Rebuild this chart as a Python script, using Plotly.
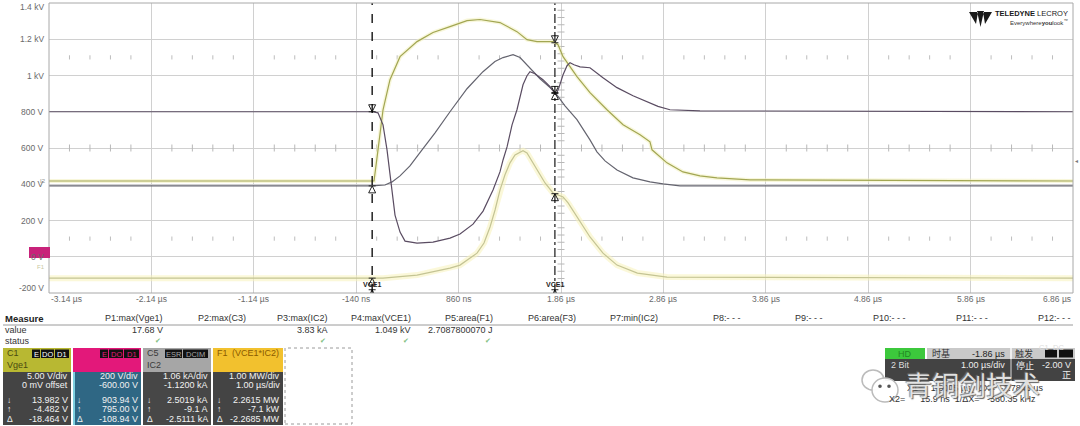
import numpy as np
import plotly.graph_objects as go

# ---------------- data (screen units: time in µs, vertical in V of the 200 V/div grid) ----------------
x_ticks = [-3.14, -2.14, -1.14, -0.14, 0.86, 1.86, 2.86, 3.86, 4.86, 5.86, 6.86]
x_tick_labels = ["-3.14 µs", "-2.14 µs", "-1.14 µs", "-140 ns", "860 ns", "1.86 µs",
                 "2.86 µs", "3.86 µs", "4.86 µs", "5.86 µs", "6.86 µs"]
y_ticks = [1400, 1200, 1000, 800, 600, 400, 200, 0, -200]
y_tick_labels = ["1.4 kV", "1.2 kV", "1 kV", "800 V", "600 V", "400 V", "200 V", "0 V", "-200 V"]

# C1 Vge1 (olive)
t_vge = [-3.14, 0.034, 0.073, 0.122, 0.190, 0.288, 0.454, 0.610, 0.776, 0.942, 1.069, 1.264, 1.430,
         1.528, 1.626, 1.782, 1.831, 1.880, 2.016, 2.143, 2.309, 2.466, 2.632, 2.729, 2.749, 2.895,
         3.051, 3.217, 3.383, 3.706, 6.86]
y_vge = [418, 418, 590, 811, 977, 1104, 1187, 1237, 1270, 1303, 1309, 1292, 1242,
         1198, 1187, 1187, 1170, 1104, 994, 905, 811, 728, 673, 634, 590, 518,
         468, 446, 435, 424, 418]

# C3 VCE1 (dark)
t_vce = [-3.14, 0.024, 0.073, 0.122, 0.161, 0.200, 0.239, 0.288, 0.337, 0.454, 0.610, 0.776, 0.874,
         1.001, 1.099, 1.196, 1.264, 1.294, 1.333, 1.382, 1.430, 1.489, 1.528, 1.557, 1.606, 1.684,
         1.753, 1.811, 1.840, 1.880, 1.919, 1.948, 1.987, 2.046, 2.143, 2.270, 2.407, 2.563, 2.729,
         2.778, 2.807, 2.924, 3.217, 6.86]
y_vce = [800, 800, 794, 728, 590, 396, 230, 136, 86, 75, 81, 103, 125,
         180, 252, 368, 468, 534, 606, 728, 811, 949, 999, 1021, 1010, 977,
         938, 893, 933, 1004, 1054, 1071, 1059, 1048, 1043, 988, 933, 888, 849,
         838, 830, 811, 805, 800]

# C5 IC2 (grey)
t_ic = [-3.14, 0.014, 0.141, 0.210, 0.288, 0.385, 0.503, 0.630, 0.776, 0.942, 1.098, 1.215, 1.294,
        1.392, 1.460, 1.557, 1.655, 1.753, 1.811, 1.899, 2.016, 2.143, 2.211, 2.290, 2.407, 2.563,
        2.729, 2.856, 3.022, 6.86]
y_ic = [391, 391, 396, 413, 446, 501, 590, 684, 800, 927, 1021, 1077, 1099,
        1115, 1099, 1043, 982, 933, 900, 833, 756, 645, 579, 529, 479, 435,
        413, 402, 391, 391]

# F1 = VCE1*IC2 (pale yellow)
t_pw = [-3.14, 0.122, 0.454, 0.776, 0.874, 1.040, 1.108, 1.167, 1.216, 1.264, 1.313, 1.362, 1.411,
        1.460, 1.489, 1.528, 1.626, 1.704, 1.782, 1.831, 1.880, 1.929, 2.016, 2.143, 2.270, 2.407,
        2.606, 2.895, 6.86]
y_pw = [-118, -118, -101, -63, -46, 20, 76, 164, 258, 368, 452, 518, 562,
        579, 585, 573, 479, 407, 352, 341, 330, 297, 219, 109, 20, -46,
        -90, -112, -118]

cursor_x1 = 1.8005   # µs
cursor_x2 = 0.0159   # µs

measure_heads = ["P1:max(Vge1)", "P2:max(C3)", "P3:max(IC2)", "P4:max(VCE1)", "P5:area(F1)",
                 "P6:area(F3)", "P7:min(IC2)", "P8:- - -", "P9:- - -", "P10:- - -", "P11:- - -", "P12:- - -"]
measure_values = ["17.68 V", "", "3.83 kA", "1.049 kV", "2.7087800070 J", "", "", "", "", "", "", ""]
measure_status = [True, False, True, True, True, False, False, False, False, False, False, False]

ch_names = ["C1", "", "C5", "F1"]
ch_sub = ["Vge1", "", "IC2", "(VCE1*IC2)"]
ch_lines = [
    ["5.00 V/div", "0 mV offset", "13.982 V", "-4.482 V", "-18.464 V"],
    ["200 V/div", "-600.00 V", "903.94 V", "795.00 V", "-108.94 V"],
    ["1.06 kA/div", "-1.1200 kA", "2.5019 kA", "-9.1 A", "-2.5111 kA"],
    ["1.00 MW/div", "1.00 µs/div", "2.2615 MW", "-7.1 kW", "-2.2685 MW"],
]

# ---------------- layout helpers (pixel -> paper) ----------------
L, R, T, B = 49, 1073, 3, 293
W, H = 1080, 426


def PX(x):
    return (x - L) / (R - L)


def PY(y):
    return (B - y) / (B - T)


FONT = "Liberation Sans, Arial, sans-serif"
CJK = "Noto Sans CJK SC, sans-serif"

fig = go.Figure()

# grid decoration: dotted rows and centre ticks
minor_x = [v for v in np.arange(-3.14, 6.861, 0.2)
           if abs(((v + 3.14) % 1.0)) > 0.05 and abs(((v + 3.14) % 1.0) - 1) > 0.05]
for yrow in (1100, 100):
    fig.add_trace(go.Scatter(x=minor_x, y=[yrow] * len(minor_x), mode="markers",
                             marker=dict(symbol="line-ns-open", size=3, color="#bdbdbd",
                                         line=dict(color="#bdbdbd", width=1)),
                             hoverinfo="skip", showlegend=False))
fig.add_trace(go.Scatter(x=minor_x, y=[600] * len(minor_x), mode="markers",
                         marker=dict(symbol="line-ns-open", size=5, color="#b8b8b8",
                                     line=dict(color="#b8b8b8", width=1)),
                         hoverinfo="skip", showlegend=False))
minor_y = [v for v in np.arange(-200, 1401, 40) if v % 200 != 0]
fig.add_trace(go.Scatter(x=[1.86] * len(minor_y), y=minor_y, mode="markers",
                         marker=dict(symbol="line-ew-open", size=5, color="#b8b8b8",
                                     line=dict(color="#b8b8b8", width=1)),
                         hoverinfo="skip", showlegend=False))

# halos (persistence glow)
for tt, yy, col, w in [(t_pw, y_pw, "rgba(247,242,185,0.55)", 6),
                       (t_vge, y_vge, "rgba(242,240,190,0.55)", 4)]:
    fig.add_trace(go.Scatter(x=tt, y=yy, mode="lines", line=dict(color=col, width=w),
                             hoverinfo="skip", showlegend=False))

# traces
fig.add_trace(go.Scatter(x=t_pw, y=y_pw, mode="lines", line=dict(color="#c4c494", width=1.2),
                         name="F1", showlegend=False))
fig.add_trace(go.Scatter(x=t_vge, y=y_vge, mode="lines", line=dict(color="#a2a652", width=1.2),
                         name="Vge1", showlegend=False))
fig.add_trace(go.Scatter(x=t_ic, y=y_ic, mode="lines", line=dict(color="#64646f", width=1.2),
                         name="IC2", showlegend=False))
fig.add_trace(go.Scatter(x=t_vce, y=y_vce, mode="lines", line=dict(color="#5a4c62", width=1.2),
                         name="VCE1", showlegend=False))

# cursor markers
mk_x, mk_y, mk_s = [], [], []
for cx in (cursor_x2, cursor_x1):
    mk_x += [cx, cx, cx]
    mk_y += [float(np.interp(cx, t_vce, y_vce)), float(np.interp(cx, t_ic, y_ic)),
             float(np.interp(cx, t_pw, y_pw))]
    mk_s += ["arrow-bar-down-open", "arrow-bar-up-open", "arrow-bar-up-open"]
mk_x.append(cursor_x1)
mk_y.append(float(np.interp(cursor_x1, t_vge, y_vge)))
mk_s.append("arrow-bar-down-open")
fig.add_trace(go.Scatter(x=mk_x, y=mk_y, mode="markers",
                         marker=dict(symbol=mk_s, size=7, color="#222", line=dict(color="#222", width=1)),
                         hoverinfo="skip", showlegend=False))
fig.add_trace(go.Scatter(x=[cursor_x2, cursor_x1], y=[-182, -182], mode="markers",
                         marker=dict(symbol="arrow-bar-up-open", size=7, color="#222", line=dict(color="#222", width=1)),
                         hoverinfo="skip", showlegend=False))

shapes = []
ann = []

# cursors
shapes.append(dict(type="line", xref="x", yref="paper", x0=cursor_x2, x1=cursor_x2, y0=0, y1=1,
                   line=dict(color="black", width=1.3, dash="dash")))
shapes.append(dict(type="line", xref="x", yref="paper", x0=cursor_x1, x1=cursor_x1, y0=0, y1=1,
                   line=dict(color="black", width=1.1, dash="dashdot")))
# plot frame
shapes.append(dict(type="rect", xref="paper", yref="paper", x0=0, x1=1, y0=0, y1=1,
                   line=dict(color="#a8a8a8", width=1)))

for cx in (cursor_x2, cursor_x1):
    ann.append(dict(x=cx, y=PY(284), xref="x", yref="paper", text="<b>VCE1</b>", showarrow=False,
                    yanchor="middle", font=dict(family=FONT, size=7, color="#222")))

# axis labels
for v, lab in zip(x_ticks, x_tick_labels):
    xa = "center"
    if v == x_ticks[0]:
        xa = "left"
    elif v == x_ticks[-1]:
        xa = "right"
    ann.append(dict(x=v, y=PY(298.5), xref="x", yref="paper", text=lab, showarrow=False, xanchor=xa,
                    yanchor="middle", font=dict(family=FONT, size=8.5, color="#6a6a6a")))
for v, lab in zip(y_ticks, y_tick_labels):
    yy = v
    if v == 1400:
        yy = 1378
    if v == -200:
        yy = -172
    ann.append(dict(x=PX(46), y=yy, xref="paper", yref="y", text=lab, showarrow=False, xanchor="right",
                    yanchor="middle", font=dict(family=FONT, size=8.5, color="#6a6a6a")))

# ground marker (magenta)
shapes.append(dict(type="rect", xref="paper", yref="paper", x0=PX(29), x1=PX(50), y0=PY(258), y1=PY(247),
                   line=dict(width=0), fillcolor="#c8227a"))
ann.append(dict(x=PX(47), y=PY(272), xref="paper", yref="paper", text="F1", showarrow=False, xanchor="right",
                font=dict(family=FONT, size=6, color="#c8c8a0")))
ann.append(dict(x=PX(48), y=PY(181), xref="paper", yref="paper", text="I2", showarrow=False, xanchor="right",
                font=dict(family=FONT, size=6, color="#909090")))

# logo
logo_path = ("M {a},{b} L {c},{b} L {d},{e} Z M {f},{b} L {g},{b} L {h},{e} Z "
             "M {i},{j} L {k},{j} L {l},{m} Z").format(
    a=PX(969), b=PY(12), c=PX(978), d=PX(976), e=PY(24),
    f=PX(983), g=PX(992), h=PX(985),
    i=PX(977), j=PY(11), k=PX(984), l=PX(980.5), m=PY(27))
shapes.append(dict(type="path", xref="paper", yref="paper", path=logo_path, fillcolor="#1a1a1a",
                   line=dict(width=0)))
ann.append(dict(x=PX(1070), y=PY(14), xref="paper", yref="paper",
                text="<b>TELEDYNE</b> LECROY", showarrow=False, xanchor="right", yanchor="middle",
                font=dict(family=FONT, size=7.5, color="#1a1a1a")))
ann.append(dict(x=PX(1070), y=PY(22), xref="paper", yref="paper",
                text="Everywhere<b>you</b>look<sup>™</sup>", showarrow=False, xanchor="right", yanchor="middle",
                font=dict(family=FONT, size=6, color="#333")))
ann.append(dict(x=PX(1076), y=PY(160), xref="paper", yref="paper", text="◂", showarrow=False,
                xanchor="center", font=dict(family="DejaVu Sans", size=6, color="#777")))

# ---------------- measurement table ----------------
TXT = "#333333"
ann.append(dict(x=PX(3), y=PY(318), xref="paper", yref="paper", text="<b>Measure</b>", showarrow=False,
                xanchor="left", yanchor="middle", font=dict(family=FONT, size=9.5, color="#222")))
ann.append(dict(x=PX(3), y=PY(330), xref="paper", yref="paper", text="value", showarrow=False,
                xanchor="left", yanchor="middle", font=dict(family=FONT, size=9, color=TXT)))
ann.append(dict(x=PX(3), y=PY(341), xref="paper", yref="paper", text="status", showarrow=False,
                xanchor="left", yanchor="middle", font=dict(family=FONT, size=9, color=TXT)))
shapes.append(dict(type="line", xref="paper", yref="paper", x0=PX(3), x1=PX(1073), y0=PY(325), y1=PY(325),
                   line=dict(color="#9a9a9a", width=1)))
col_right = [165 + 82.5 * i for i in range(12)]
for i, (hd, vl, st) in enumerate(zip(measure_heads, measure_values, measure_status)):
    xr = col_right[i]
    ann.append(dict(x=PX(xr), y=PY(318), xref="paper", yref="paper", text=hd, showarrow=False,
                    xanchor="right", yanchor="middle", font=dict(family=FONT, size=9, color=TXT)))
    if vl:
        ann.append(dict(x=PX(xr), y=PY(330), xref="paper", yref="paper", text=vl, showarrow=False,
                        xanchor="right", yanchor="middle", font=dict(family=FONT, size=9, color=TXT)))
    if st:
        ann.append(dict(x=PX(xr - 2), y=PY(341), xref="paper", yref="paper", text="✔", showarrow=False,
                        xanchor="right", yanchor="middle",
                        font=dict(family="DejaVu Sans", size=7, color="#7fbf7f")))

# ---------------- channel boxes ----------------
box_x = [(3, 71), (73, 141), (143, 211), (213, 283)]
head_col = ["#b8b832", "#e3187a", "#a6a6a6", "#f2c12e"]
body_col = ["#444444", "#2f6784", "#474747", "#444444"]
name_col = ["#4a4a10", "#e3187a", "#3a3a3a", "#8a5a00"]
line_y = [376, 384.5, 400, 409, 418.5]
for k, (x0, x1) in enumerate(box_x):
    shapes.append(dict(type="rect", xref="paper", yref="paper", x0=PX(x0), x1=PX(x1), y0=PY(372), y1=PY(348),
                       line=dict(width=0), fillcolor=head_col[k]))
    shapes.append(dict(type="rect", xref="paper", yref="paper", x0=PX(x0), x1=PX(x1), y0=PY(425), y1=PY(372),
                       line=dict(width=0), fillcolor=body_col[k]))
    if ch_names[k]:
        ann.append(dict(x=PX(x0 + 2), y=PY(353), xref="paper", yref="paper", text=ch_names[k], showarrow=False,
                        xanchor="left", yanchor="middle", font=dict(family=FONT, size=9, color=name_col[k])))
    if ch_sub[k]:
        if k == 3:
            ann.append(dict(x=PX(x1 - 2), y=PY(353), xref="paper", yref="paper", text=ch_sub[k],
                            showarrow=False, xanchor="right", yanchor="middle",
                            font=dict(family=FONT, size=9, color=name_col[k])))
        else:
            ann.append(dict(x=PX(x0 + 2), y=PY(364.5), xref="paper", yref="paper", text=ch_sub[k],
                            showarrow=False, xanchor="left", yanchor="middle",
                            font=dict(family=FONT, size=9, color=name_col[k])))
    for j, (txt, yy) in enumerate(zip(ch_lines[k], line_y)):
        ann.append(dict(x=PX(x1 - 1.5), y=PY(yy), xref="paper", yref="paper", text=txt, showarrow=False,
                        xanchor="right", yanchor="middle", font=dict(family=FONT, size=9, color="#f2f2f2")))
    for sym, yy in zip(["↓", "↑", "Δ"], line_y[2:]):
        ann.append(dict(x=PX(x0 + 2), y=PY(yy), xref="paper", yref="paper", text=sym, showarrow=False,
                        xanchor="left", yanchor="middle", font=dict(family=FONT, size=8.5, color="#f2f2f2")))
    if k == 1:
        shapes.append(dict(type="rect", xref="paper", yref="paper", x0=PX(x0), x1=PX(x0 + 2), y0=PY(425),
                           y1=PY(372), line=dict(width=0), fillcolor="#7fd0e0"))

# flag boxes in headers
flags = [(32, 40, "E", "#ffffff"), (41, 54, "DO", "#ffffff"), (55, 69, "D1", "#ffffff"),
         (100, 108, "E", "#e3187a"), (109, 123, "DO", "#e3187a"), (124, 139, "D1", "#e3187a"),
         (165, 182, "ESR", "#a6a6a6"), (183, 208, "DCIM", "#a6a6a6")]
for fx0, fx1, txt, col in flags:
    shapes.append(dict(type="rect", xref="paper", yref="paper", x0=PX(fx0), x1=PX(fx1), y0=PY(358),
                       y1=PY(349.5), line=dict(width=0), fillcolor="#111111"))
    ann.append(dict(x=PX((fx0 + fx1) / 2), y=PY(354), xref="paper", yref="paper", text=txt, showarrow=False,
                    xanchor="center", yanchor="middle", font=dict(family=FONT, size=7.5, color=col)))
# dotted empty box
shapes.append(dict(type="rect", xref="paper", yref="paper", x0=PX(285), x1=PX(352), y0=PY(424), y1=PY(348),
                   line=dict(color="#9a9a9a", width=1, dash="dot")))

# ---------------- timebase / trigger box ----------------
shapes.append(dict(type="rect", xref="paper", yref="paper", x0=PX(885), x1=PX(925), y0=PY(359), y1=PY(348),
                   line=dict(width=0), fillcolor="#3cc83c"))
shapes.append(dict(type="rect", xref="paper", yref="paper", x0=PX(927), x1=PX(1010), y0=PY(359), y1=PY(348),
                   line=dict(width=0), fillcolor="#c9c9c9"))
shapes.append(dict(type="rect", xref="paper", yref="paper", x0=PX(1012), x1=PX(1075), y0=PY(359), y1=PY(348),
                   line=dict(width=0), fillcolor="#c9c9c9"))
shapes.append(dict(type="rect", xref="paper", yref="paper", x0=PX(885), x1=PX(1075), y0=PY(381), y1=PY(359),
                   line=dict(width=0), fillcolor="#434343"))
shapes.append(dict(type="line", xref="paper", yref="paper", x0=PX(1011), x1=PX(1011), y0=PY(381), y1=PY(348),
                   line=dict(color="#dddddd", width=1)))
for fx0, fx1, txt in [(1045, 1057, "C1"), (1059, 1073, "DC")]:
    shapes.append(dict(type="rect", xref="paper", yref="paper", x0=PX(fx0), x1=PX(fx1), y0=PY(357.5),
                       y1=PY(349.5), line=dict(width=0), fillcolor="#111111"))
    ann.append(dict(x=PX((fx0 + fx1) / 2), y=PY(353.5), xref="paper", yref="paper", text=txt, showarrow=False,
                    font=dict(family=FONT, size=7.5, color="#dddddd")))
tb_text = [
    (905, 353.5, "HD", "center", "#228822", FONT),
    (930, 353.5, "时基", "left", "#333333", CJK),
    (1007, 353.5, "-1.86 µs", "right", "#222222", FONT),
    (1013, 353.5, "触发", "left", "#333333", CJK),
    (889, 365, "2 Bit", "left", "#dddddd", FONT),
    (1007, 365, "1.00 µs/div", "right", "#eeeeee", FONT),
    (1014, 365, "停止", "left", "#eeeeee", CJK),
    (1073, 365, "-2.00 V", "right", "#eeeeee", FONT),
    (1073, 375, "正", "right", "#eeeeee", CJK),
    (905, 388, "X1=   1.8005 µs   ΔX=  -1.7846 µs", "left", "#333333", FONT),
    (887, 399, "X2=      15.9 ns  1/ΔX=   -560.35 kHz", "left", "#333333", FONT),
]
for xx, yy, txt, xa, col, fam in tb_text:
    ann.append(dict(x=PX(xx), y=PY(yy), xref="paper", yref="paper", text=txt, showarrow=False, xanchor=xa,
                    yanchor="middle", font=dict(family=fam, size=9, color=col)))

# watermark (wechat icon + text)
shapes.append(dict(type="circle", xref="paper", yref="paper", x0=PX(862), x1=PX(884), y0=PY(390), y1=PY(370),
                   line=dict(color="#bbbbbb", width=1.5), fillcolor="rgba(255,255,255,0.9)"))
shapes.append(dict(type="circle", xref="paper", yref="paper", x0=PX(872), x1=PX(898), y0=PY(402), y1=PY(378),
                   line=dict(color="#bbbbbb", width=1.5), fillcolor="rgba(255,255,255,0.95)"))
for ex in (880, 889):
    shapes.append(dict(type="circle", xref="paper", yref="paper", x0=PX(ex - 1.8), x1=PX(ex + 1.8),
                       y0=PY(388), y1=PY(384.4), line=dict(width=0), fillcolor="#555555"))
ann.append(dict(x=PX(903), y=PY(384), xref="paper", yref="paper", text="青铜剑技术", showarrow=False,
                xanchor="left", yanchor="middle",
                font=dict(family=CJK, size=27, color="rgba(238,238,238,0.92)",
                          shadow="1px 1px 1px #555, -1px -1px 1px #777")))

fig.update_layout(
    width=W, height=H,
    margin=dict(l=L, r=W - R, t=T, b=H - B, pad=0),
    paper_bgcolor="white", plot_bgcolor="white",
    showlegend=False,
    xaxis=dict(range=[x_ticks[0], x_ticks[-1]], tickvals=x_ticks, showticklabels=False, showgrid=True,
               gridcolor="#d0d0d0", gridwidth=1, zeroline=False, ticks="", fixedrange=True),
    yaxis=dict(range=[y_ticks[-1], y_ticks[0]], tickvals=y_ticks, showticklabels=False, showgrid=True,
               gridcolor="#d0d0d0", gridwidth=1, zeroline=False, ticks="", fixedrange=True),
    shapes=shapes,
    annotations=ann,
    font=dict(family=FONT),
)

fig.write_html("out.html", config={"displayModeBar": False},
               post_script="document.body.style.margin='0px';document.body.style.overflow='hidden';")
